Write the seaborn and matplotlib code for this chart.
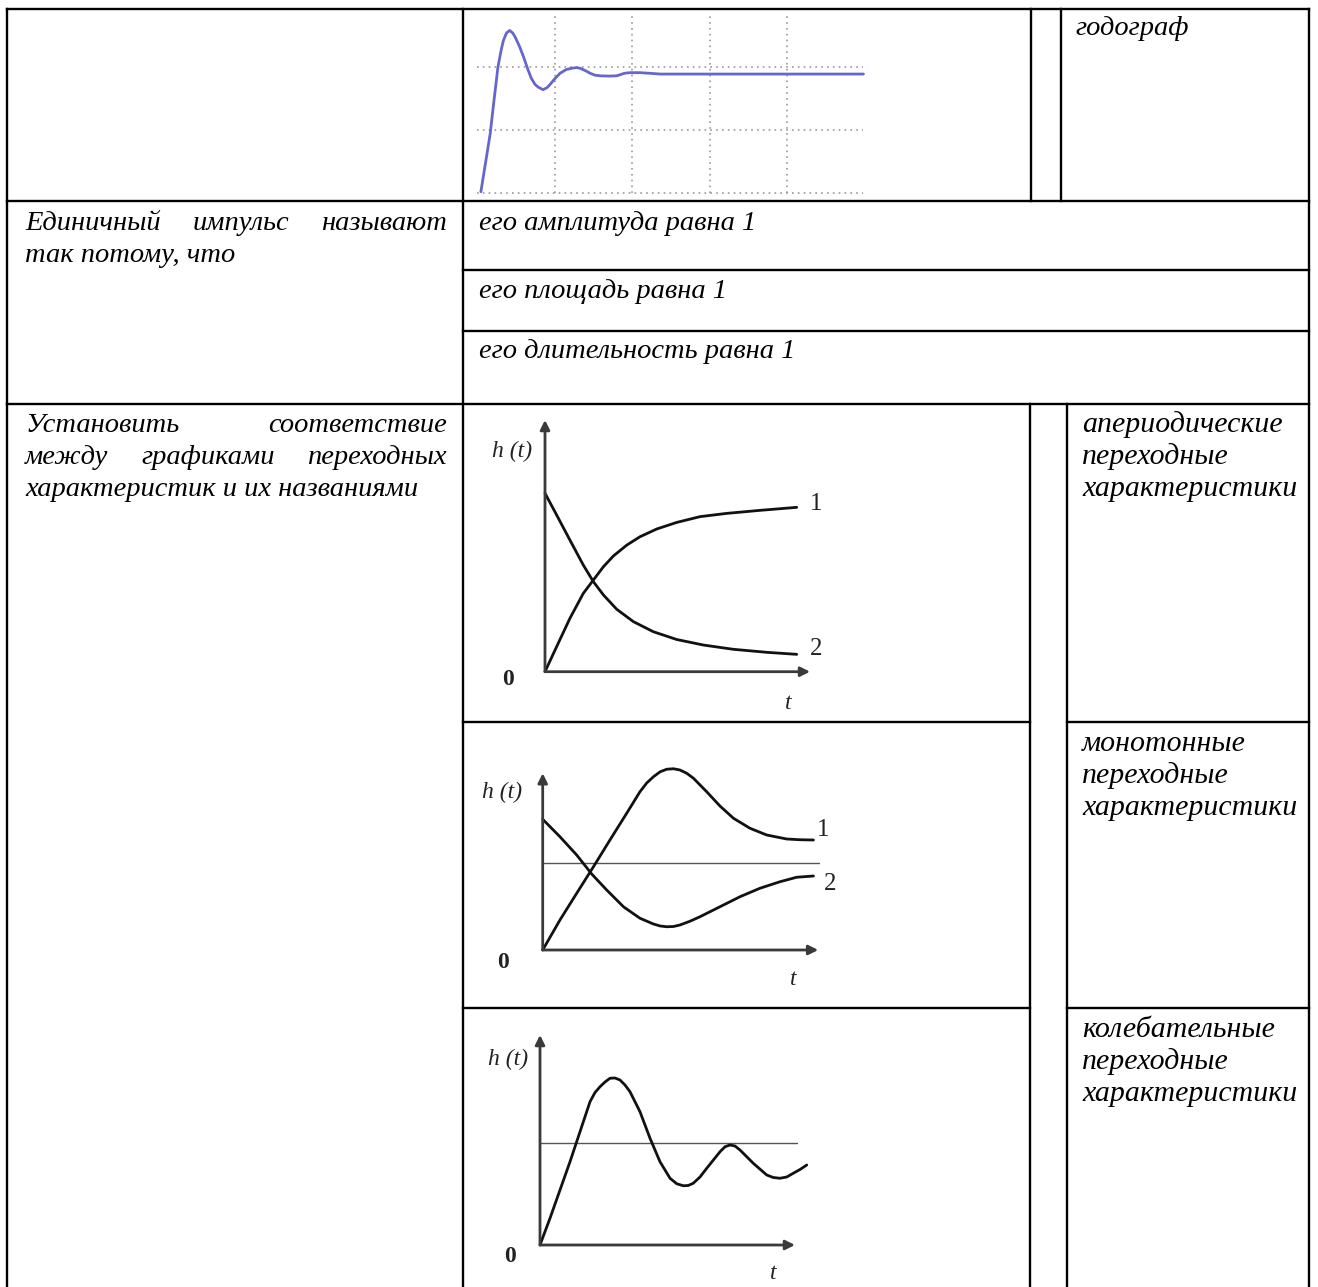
import numpy as np
import pandas as pd
import matplotlib.pyplot as plt
import seaborn as sns

# ---- data ----
# top row: step response with overshoot (blue)
step_t = [0.05, 0.11, 0.17, 0.22, 0.27, 0.31, 0.34, 0.38, 0.42, 0.46, 0.49, 0.55, 0.60,
          0.65, 0.70, 0.75, 0.79, 0.85, 0.90, 0.94, 1.00, 1.07, 1.15, 1.22, 1.28, 1.33,
          1.40, 1.46, 1.52, 1.59, 1.70, 1.80, 1.90, 1.97, 2.10, 2.23, 2.36, 4.98]
step_h = [0.01, 0.24, 0.47, 0.74, 1.00, 1.13, 1.21, 1.27, 1.29, 1.27, 1.24, 1.16, 1.08,
          0.99, 0.91, 0.86, 0.84, 0.82, 0.835, 0.86, 0.905, 0.95, 0.98, 0.99, 0.995, 0.99,
          0.97, 0.95, 0.935, 0.93, 0.928, 0.93, 0.95, 0.955, 0.955, 0.95, 0.944, 0.944]
step_grid_x = [1, 2, 3, 4]
step_grid_y = [0, 0.5, 1.0]

# aperiodic plot: curve 1 rising, curve 2 decaying
ap1_t = [0, 0.46, 0.99, 1.52, 1.92, 2.32, 2.72, 3.25, 3.77, 4.44, 5.23, 6.16, 7.22, 8.54, 10.0]
ap1_h = [0, 0.99, 2.12, 3.11, 3.64, 4.17, 4.60, 5.03, 5.36, 5.67, 5.93, 6.16, 6.29, 6.41, 6.53]
ap2_t = [0, 0.46, 0.99, 1.52, 1.92, 2.32, 2.85, 3.51, 4.30, 5.23, 6.29, 7.48, 8.81, 10.0]
ap2_h = [7.09, 6.23, 5.23, 4.24, 3.58, 3.05, 2.48, 1.99, 1.59, 1.28, 1.06, 0.89, 0.77, 0.69]

# monotonic plot: curve 1 with overshoot, curve 2 with undershoot
mo1_t = [0, 0.69, 1.36, 2.03, 2.69, 3.36, 3.89, 4.16, 4.43, 4.70, 4.96, 5.23, 5.49, 5.76,
         6.03, 6.56, 7.09, 7.63, 8.29, 8.96, 9.76, 10.30, 10.83]
mo1_h = [0, 1.20, 2.27, 3.33, 4.40, 5.47, 6.33, 6.68, 6.93, 7.13, 7.23, 7.25, 7.20, 7.07,
         6.87, 6.33, 5.76, 5.27, 4.87, 4.60, 4.44, 4.41, 4.40]
mo2_t = [0, 0.69, 1.36, 1.96, 2.56, 3.23, 3.89, 4.43, 4.70, 4.96, 5.23, 5.49, 5.89, 6.29,
         7.09, 7.89, 8.69, 9.49, 10.16, 10.83]
mo2_h = [5.23, 4.53, 3.80, 3.04, 2.40, 1.73, 1.27, 1.04, 0.96, 0.93, 0.94, 1.00, 1.15, 1.33,
         1.73, 2.13, 2.47, 2.73, 2.91, 2.96]
mo_level = 3.47

# oscillating plot
osc_t = [0, 0.4, 0.8, 1.2, 1.6, 2.0, 2.2, 2.4, 2.6, 2.8, 3.0, 3.2, 3.4, 3.6, 4.0, 4.4,
         4.8, 5.2, 5.47, 5.73, 5.93, 6.13, 6.4, 6.67, 7.2, 7.4, 7.6, 7.8, 8.0, 8.53,
         9.07, 9.33, 9.6, 9.87, 10.13, 10.4, 10.67]
osc_h = [0, 1.07, 2.20, 3.33, 4.53, 5.73, 6.10, 6.33, 6.52, 6.67, 6.68, 6.60, 6.40, 6.13,
         5.33, 4.27, 3.33, 2.67, 2.45, 2.37, 2.38, 2.47, 2.72, 3.07, 3.73, 3.93, 4.00,
         3.96, 3.80, 3.27, 2.80, 2.70, 2.67, 2.72, 2.87, 3.02, 3.20]
osc_level = 4.09

sns.set_theme(style='white')
plt.rcParams['font.family'] = ['Liberation Serif', 'DejaVu Serif']

W, H = 1318, 1287
fig = plt.figure(figsize=(W / 100, H / 100), dpi=100)

# full-figure axes in pixel units for the table frame and texts
tab = fig.add_axes([0, 0, 1, 1])
tab.set_xlim(0, W)
tab.set_ylim(H, 0)
tab.axis('off')

lw_tab = 1.7
hlines = [(9, 7, 1309), (201, 7, 1309), (269.5, 463, 1309), (331, 463, 1309),
          (404, 7, 1309), (722, 463, 1030), (722, 1067, 1309),
          (1008, 463, 1030), (1008, 1067, 1309)]
vlines = [(7, 9, 1290), (463, 9, 1290), (1031, 9, 201), (1061, 9, 201),
          (1030, 404, 1290), (1067, 404, 1290), (1309, 9, 1290)]
for y, xa, xb in hlines:
    tab.plot([xa, xb], [y, y], color='black', lw=lw_tab, solid_capstyle='projecting')
for x, ya, yb in vlines:
    tab.plot([x, x], [ya, yb], color='black', lw=lw_tab, solid_capstyle='projecting')

txt = dict(fontsize=20.5, style='italic', color='black', va='baseline')
txt_r = dict(txt, fontsize=21.5)
fig.canvas.draw()
rend = fig.canvas.get_renderer()


def justify(words, x0, x1, y):
    items = [tab.text(0, y, w, **txt) for w in words]
    widths = [t.get_window_extent(rend).width for t in items]
    gap = (x1 - x0 - sum(widths)) / (len(words) - 1)
    x = x0
    for t, w in zip(items, widths):
        t.set_x(x)
        x += w + gap


LS = 32
tab.text(1075, 35, 'годограф', **txt)

justify(['Единичный', 'импульс', 'называют'], 25, 447, 230)
tab.text(25, 230 + LS, 'так потому, что', **txt)
tab.text(479, 230, 'его амплитуда равна 1', **txt)
tab.text(479, 298, 'его площадь равна 1', **txt)
tab.text(479, 358, 'его длительность равна 1', **txt)

justify(['Установить', 'соответствие'], 25, 447, 432)
justify(['между', 'графиками', 'переходных'], 25, 447, 432 + LS)
tab.text(25, 432 + 2 * LS, 'характеристик и их названиями', **txt)

right_labels = [('апериодические', 432), ('монотонные', 751), ('колебательные', 1037)]
for word, y in right_labels:
    tab.text(1082, y, word, **txt_r)
    tab.text(1082, y + LS, 'переходные', **txt_r)
    tab.text(1082, y + 2 * LS, 'характеристики', **txt_r)


def inset(x0, y0, x1, y1, ox, oy, sx, sy):
    ax = fig.add_axes([x0 / W, 1 - y1 / H, (x1 - x0) / W, (y1 - y0) / H])
    ax.set_xlim((x0 - ox) / sx, (x1 - ox) / sx)
    ax.set_ylim((oy - y1) / sy, (oy - y0) / sy)
    ax.axis('off')
    return ax


# ---- top plot (step response) ----
ax1 = inset(475, 12, 868, 197, 477, 193, 77.6, 126)
for gx in step_grid_x:
    ax1.plot([gx, gx], [0, 1.43], color='#9a9a9a', lw=1.2, ls=(0, (1, 2.5)))
for gy in step_grid_y:
    ax1.plot([0, 4.98], [gy, gy], color='#9a9a9a', lw=1.2, ls=(0, (1, 2.5)))
sns.lineplot(data=pd.DataFrame({'t': step_t, 'h': step_h}), x='t', y='h', ax=ax1,
             color='#6666cc', lw=2.0, estimator=None, sort=False,
             solid_joinstyle='round', solid_capstyle='round')
ax1.axis('off')


def arrows(ax, xmax, ymax):
    kw = dict(arrowstyle='-|>', color='#3a3a3a', lw=2, mutation_scale=14, shrinkA=0, shrinkB=0)
    ax.annotate('', xy=(0, ymax), xytext=(0, 0), arrowprops=kw)
    ax.annotate('', xy=(xmax, 0), xytext=(0, 0), arrowprops=kw)


curve_kw = dict(color='#111111', lw=2, estimator=None, sort=False,
                solid_joinstyle='round', solid_capstyle='round')
lab = dict(fontsize=17, color='#222222')
num = dict(fontsize=18, color='#222222')

# ---- aperiodic ----
ax2 = inset(470, 410, 860, 716, 545, 671.7, 25.17, 25.17)
arrows(ax2, 10.53, 10.0)
sns.lineplot(x=ap1_t, y=ap1_h, ax=ax2, **curve_kw)
sns.lineplot(x=ap2_t, y=ap2_h, ax=ax2, **curve_kw)
ax2.axis('off')
tab.text(512, 457, 'h (t)', ha='center', va='baseline', style='italic', **lab)
tab.text(508, 685, '0', ha='center', va='baseline', weight='bold', **lab)
tab.text(788, 709, 't', ha='center', va='baseline', style='italic', **lab)
tab.text(810, 510, '1', ha='left', va='baseline', **num)
tab.text(810, 655, '2', ha='left', va='baseline', **num)

# ---- monotonic ----
ax3 = inset(470, 730, 860, 1000, 542.7, 950, 25, 25)
ax3.plot([0, 11.07], [mo_level, mo_level], color='#555555', lw=1)
arrows(ax3, 11.02, 7.07)
sns.lineplot(x=mo1_t, y=mo1_h, ax=ax3, **curve_kw)
sns.lineplot(x=mo2_t, y=mo2_h, ax=ax3, **curve_kw)
ax3.axis('off')
tab.text(502, 798, 'h (t)', ha='center', va='baseline', style='italic', **lab)
tab.text(503, 968, '0', ha='center', va='baseline', weight='bold', **lab)
tab.text(793, 985, 't', ha='center', va='baseline', style='italic', **lab)
tab.text(817, 836, '1', ha='left', va='baseline', **num)
tab.text(824, 890, '2', ha='left', va='baseline', **num)

# ---- oscillating ----
ax4 = inset(470, 1015, 860, 1287, 540, 1245, 25, 25)
ax4.plot([0, 10.27], [osc_level, osc_level], color='#555555', lw=1)
arrows(ax4, 10.2, 8.4)
sns.lineplot(x=osc_t, y=osc_h, ax=ax4, **curve_kw)
ax4.axis('off')
tab.text(508, 1065, 'h (t)', ha='center', va='baseline', style='italic', **lab)
tab.text(510, 1262, '0', ha='center', va='baseline', weight='bold', **lab)
tab.text(773, 1279, 't', ha='center', va='baseline', style='italic', **lab)

fig.savefig('out.png', dpi=100)
